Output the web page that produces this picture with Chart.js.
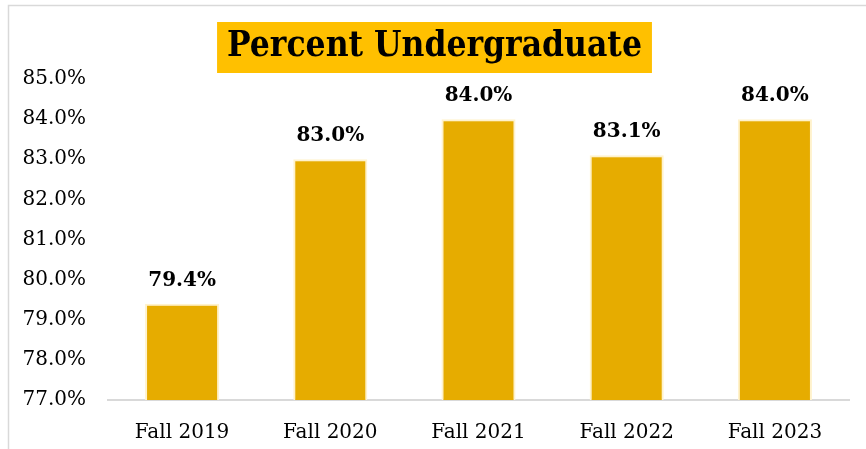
<!DOCTYPE html>
<html>
<head>
<meta charset="utf-8">
<script src="https://cdn.jsdelivr.net/npm/chart.js@4.4.1/dist/chart.umd.min.js"></script>
<style>
html,body{margin:0;padding:0;background:#fff;}
#wrap{position:relative;width:866px;height:449px;}
</style>
</head>
<body>
<div id="wrap"><canvas id="c" width="866" height="449"></canvas></div>
<script>
const categories = ["Fall 2019", "Fall 2020", "Fall 2021", "Fall 2022", "Fall 2023"];
const percentUndergraduate = [79.4, 83.0, 84.0, 83.1, 84.0];
const yMin = 77;
const yMax = 85;
const titleText = "Percent Undergraduate";
const TFONT = '"DejaVu Serif Condensed", "DejaVu Serif", serif';
const FONT = '"DejaVu Serif", serif';

const frame = {
  id: 'frame',
  beforeDraw(chart) {
    const ctx = chart.ctx;
    ctx.save();
    ctx.fillStyle = '#fff';
    ctx.fillRect(0, 0, chart.width, chart.height);
    ctx.strokeStyle = '#d9d9d9';
    ctx.lineWidth = 1.5;
    ctx.beginPath();
    ctx.moveTo(8.5, chart.height);
    ctx.lineTo(8.5, 5.5);
    ctx.lineTo(chart.width, 5.5);
    ctx.stroke();
    const tb = chart.titleBlock;
    if (tb) {
      ctx.font = 'bold 35px ' + TFONT;
      const w = ctx.measureText(titleText).width;
      const cx = (tb.left + tb.right) / 2;
      const pt = tb.options.padding.top, pb = tb.options.padding.bottom;
      const cy = tb.top + pt + (tb.height - pt - pb) / 2;
      ctx.fillStyle = '#FFC000';
      ctx.fillRect(cx - w/2 - 10, cy - 25, w + 20, 51);
    }
    ctx.restore();
  }
};

const labels = {
  id: 'labels',
  afterDatasetsDraw(chart) {
    const ctx = chart.ctx;
    const meta = chart.getDatasetMeta(0);
    ctx.save();
    ctx.font = 'bold 20px ' + FONT;
    ctx.fillStyle = '#000';
    ctx.textAlign = 'center';
    ctx.textBaseline = 'middle';
    meta.data.forEach((bar, i) => {
      ctx.fillText(percentUndergraduate[i].toFixed(1) + '%', bar.x, bar.y - 23);
    });
    ctx.restore();
  }
};

new Chart(document.getElementById('c'), {
  type: 'bar',
  data: {
    labels: categories,
    datasets: [{
      data: percentUndergraduate,
      backgroundColor: '#E6AC00',
      borderColor: '#FFF2CC',
      borderWidth: 2,
      borderSkipped: 'bottom',
      categoryPercentage: 1,
      barPercentage: 0.5
    }]
  },
  options: {
    responsive: false,
    animation: false,
    devicePixelRatio: 1,
    layout: { padding: { left: 20, right: 17, top: 20, bottom: 0 } },
    plugins: {
      legend: { display: false },
      tooltip: { enabled: false },
      title: {
        display: true,
        text: titleText,
        color: '#000',
        font: { family: TFONT, size: 35, weight: 'bold' },
        padding: { top: 6, bottom: 11 }
      }
    },
    scales: {
      x: {
        grid: { display: false },
        border: { display: true, color: '#d9d9d9', width: 2 },
        ticks: { color: '#000', font: { family: FONT, size: 20 }, padding: 13 },
        afterFit: s => { s.height = 49; }
      },
      y: {
        min: yMin,
        max: yMax,
        grid: { display: false, drawTicks: false },
        border: { display: false },
        ticks: {
          stepSize: 1,
          color: '#000',
          padding: 22,
          font: { family: FONT, size: 20 },
          callback: v => Number(v).toFixed(1) + '%'
        },
        afterFit: s => { s.width = 88; }
      }
    }
  },
  plugins: [frame, labels]
});
</script>
</body>
</html>
